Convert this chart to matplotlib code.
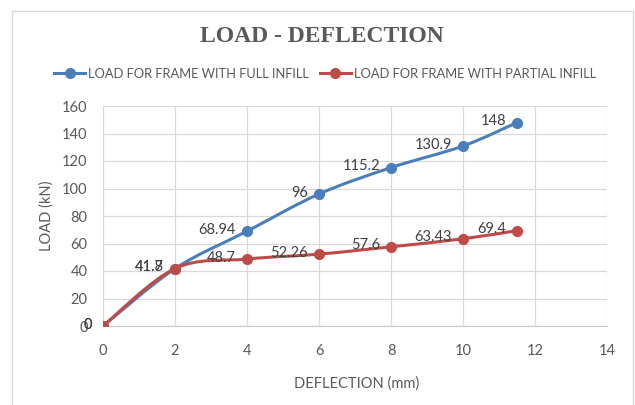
import matplotlib
matplotlib.use("Agg")
import matplotlib.pyplot as plt
from matplotlib.path import Path
from matplotlib.patches import PathPatch, Rectangle
from matplotlib.lines import Line2D

# data
deflection = [0, 2, 4, 6, 8, 10, 11.5]
load_full = [0, 41.7, 68.94, 96, 115.2, 130.9, 148]
load_partial = [0, 41.8, 48.7, 52.26, 57.6, 63.43, 69.4]
series_names = ["LOAD FOR FRAME WITH FULL INFILL", "LOAD FOR FRAME WITH PARTIAL INFILL"]
x_ticks = [0, 2, 4, 6, 8, 10, 12, 14]
y_ticks = [0, 20, 40, 60, 80, 100, 120, 140, 160]

BLUE = "#4a7ebb"
RED = "#be4b48"
TXT = "#595959"
GRID = "#d9d9d9"
FONT = ["Lato", "Liberation Sans", "DejaVu Sans"]


def smooth_path(xs, ys):
    # Excel-style smoothed line: cubic bezier through every point
    pts = list(zip(xs, ys))
    verts = [pts[0]]
    codes = [Path.MOVETO]
    n = len(pts)
    for i in range(n - 1):
        p0 = pts[i - 1] if i > 0 else pts[i]
        p1 = pts[i]
        p2 = pts[i + 1]
        p3 = pts[i + 2] if i + 2 < n else pts[i + 1]
        c1 = (p1[0] + (p2[0] - p0[0]) / 6, p1[1] + (p2[1] - p0[1]) / 6)
        c2 = (p2[0] - (p3[0] - p1[0]) / 6, p2[1] - (p3[1] - p1[1]) / 6)
        verts += [c1, c2, p2]
        codes += [Path.CURVE4] * 3
    return Path(verts, codes)


fig = plt.figure(figsize=(6.35, 4.05), dpi=100)
fig.patches.append(Rectangle((12 / 635, -0.01), 621 / 635, 1 - 11 / 405 + 0.01,
                             transform=fig.transFigure, fill=False,
                             edgecolor=GRID, linewidth=1))
ax = fig.add_axes([103 / 635, 1 - 326 / 405, 504 / 635, 220 / 405])

for ys, col in [(load_full, BLUE), (load_partial, RED)]:
    ax.add_patch(PathPatch(smooth_path(deflection, ys), facecolor="none",
                           edgecolor=col, linewidth=2.2, zorder=3))
    ax.plot(deflection, ys, linestyle="none", marker="o", markersize=7,
            color=col, zorder=4)
    for x, y in zip(deflection, ys):
        ax.annotate(f"{y:g}", (x, y), xytext=(-8, 1), textcoords="offset points",
                    ha="right", va="center", fontsize=10.5, color="#404040",
                    family=FONT, zorder=5)

ax.set_xlim(0, 14)
ax.set_ylim(0, 160)
ax.set_xticks(x_ticks)
ax.set_yticks(y_ticks)
ax.grid(True, color=GRID, linewidth=0.9)
ax.set_axisbelow(True)
for s in ["top", "right"]:
    ax.spines[s].set_visible(False)
ax.spines["bottom"].set_color("#c8c8c8")
ax.spines["left"].set_color(GRID)
ax.tick_params(length=0, colors=TXT, labelsize=10.5)
ax.tick_params(axis="x", pad=13)
ax.tick_params(axis="y", pad=11)
for lab in ax.get_xticklabels() + ax.get_yticklabels():
    lab.set_family(FONT)
ax.set_xlabel("DEFLECTION (mm)", fontsize=10.5, color=TXT, family=FONT)
ax.set_ylabel("LOAD (kN)", fontsize=10.5, color=TXT, family=FONT)
ax.xaxis.set_label_coords(0.504, -0.228)
ax.yaxis.set_label_coords(-0.098, 0.5)

fig.text(0.507, 1 - 37 / 405, "LOAD - DEFLECTION", ha="center", va="center",
         fontsize=17, fontweight="bold", color=TXT,
         family=["Liberation Serif", "DejaVu Serif"])

handles = [Line2D([], [], color=BLUE, linewidth=2.2, marker="o", markersize=7),
           Line2D([], [], color=RED, linewidth=2.2, marker="o", markersize=7)]
fig.legend(handles, series_names, loc="center", bbox_to_anchor=(0.512, 1 - 74 / 405),
           ncol=2, frameon=False, handlelength=2.4, handletextpad=0.25,
           columnspacing=0.8, prop={"family": FONT, "size": 9.3},
           labelcolor=TXT)

fig.savefig("out.png", dpi=100)
